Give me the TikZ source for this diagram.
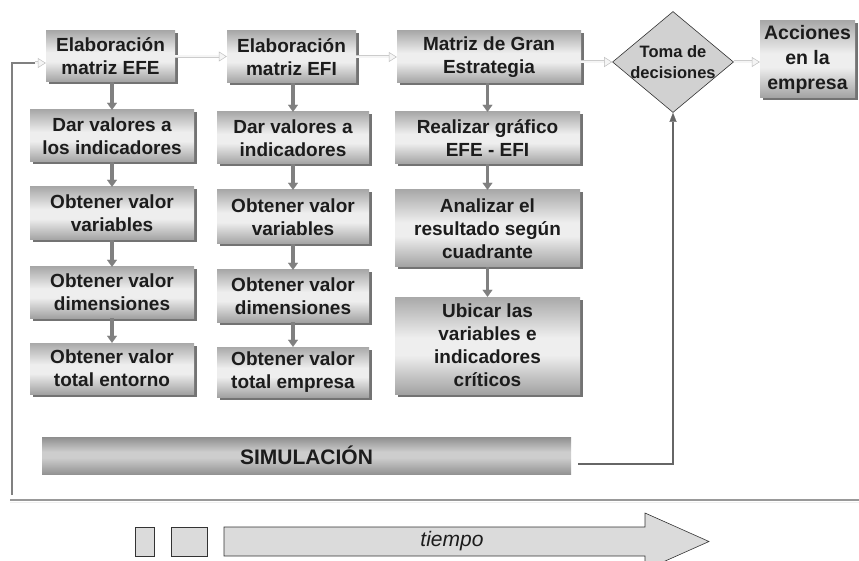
\documentclass[tikz,border=0pt]{standalone}
\usepackage{fontspec}
\setmainfont{Liberation Sans}
\usetikzlibrary{shapes.geometric,arrows.meta,shadows,calc}
\definecolor{bxT}{HTML}{A9A9A9}
\definecolor{bxL}{HTML}{EEEEEE}
\definecolor{bxB}{HTML}{A2A2A2}
\definecolor{smT}{HTML}{8E8E8E}
\definecolor{smL}{HTML}{CDCDCD}
\definecolor{smB}{HTML}{939393}
\definecolor{txt}{HTML}{1C1C1C}
\pgfdeclareverticalshading{boxshade}{100bp}{color(0bp)=(bxB); color(25bp)=(bxB); color(45bp)=(bxL); color(54bp)=(bxL); color(75bp)=(bxT); color(100bp)=(bxT)}
\pgfdeclareverticalshading{simshade}{100bp}{color(0bp)=(smB); color(25bp)=(smB); color(47bp)=(smL); color(55bp)=(smL); color(75bp)=(smT); color(100bp)=(smT)}
\newcommand\bxfont{\fontsize{19}{23}\selectfont\bfseries}
\newcommand\dcfont{\fontsize{16.5}{20.5}\selectfont\bfseries}
\newcommand\acfont{\fontsize{19.5}{25}\selectfont\bfseries}
\begin{document}
\begin{tikzpicture}[x=1pt,y=-1pt,
  bx/.style={shade, shading=boxshade, draw=none, align=center, inner sep=0pt,
    font=\bxfont, text=txt,
    general shadow={fill=black!55, shadow xshift=2.5pt, shadow yshift=-2.5pt}},
  dc/.style={diamond, draw=black!80, line width=0.6pt, fill=black!18, inner sep=0pt},
  dctext/.style={align=center, font=\dcfont, text=txt, inner sep=0pt},
  simbox/.style={shade, shading=simshade, draw=none, inner sep=0pt,
    font=\fontsize{21}{25}\selectfont\bfseries, text=txt},
  varrow/.style={draw=black!50, line width=3.6pt,
    -{Triangle[length=7pt,width=10pt,line width=0.1pt]}},
  lightarrow/.style={draw=black!4, line width=2pt,
    preaction={draw=black!20, line width=3pt, arrows=-, shorten >=7.5pt},
    -{Triangle[length=8pt,width=10pt,line width=0.5pt,color=black!25,fill=black!4]}},
  darkline/.style={draw=black!60, line width=1.8pt},
  feedline/.style={draw=black!50, line width=1.6pt},
  timebox/.style={draw=black!80, line width=0.6pt, fill=black!14}
]
\useasboundingbox (0,0) rectangle (859,561);
\clip (0,0) rectangle (859,561);

% top row
\node[bx, minimum width=129pt, minimum height=51pt] (efe) at (110.5,56.5) {Elaboración\\matriz EFE};
\node[bx, minimum width=129pt, minimum height=52pt] (efi) at (291.5,57) {Elaboración\\matriz EFI};
\node[bx, minimum width=184pt, minimum height=52pt] (mge) at (489,57) {Matriz de Gran\\Estrategia};
\node[dc, minimum width=121pt, minimum height=101pt] (dec) at (673,62) {};
\node[dctext] (dectext) at (dec.center) {Toma de\\decisiones};
\node[bx, minimum width=95pt, minimum height=77pt, font=\acfont] (acc) at (807.5,59.5) {Acciones\\en la\\empresa};

% column 1
\node[bx, minimum width=164pt, minimum height=52pt] (a1) at (112,136) {Dar valores a\\los indicadores};
\node[bx, minimum width=164pt, minimum height=53pt] (a2) at (112,213.5) {Obtener valor\\variables};
\node[bx, minimum width=164pt, minimum height=51pt] (a3) at (112,292.5) {Obtener valor\\dimensiones};
\node[bx, minimum width=164pt, minimum height=51pt] (a4) at (112,368.5) {Obtener valor\\total entorno};

% column 2
\node[bx, minimum width=152pt, minimum height=52pt] (b1) at (293,138) {Dar valores a\\indicadores};
\node[bx, minimum width=152pt, minimum height=54pt] (b2) at (293,217) {Obtener valor\\variables};
\node[bx, minimum width=152pt, minimum height=52pt] (b3) at (293,296) {Obtener valor\\dimensiones};
\node[bx, minimum width=152pt, minimum height=50pt] (b4) at (293,372) {Obtener valor\\total empresa};

% column 3
\node[bx, minimum width=185pt, minimum height=52pt] (c1) at (487.5,138) {Realizar gráfico\\EFE - EFI};
\node[bx, minimum width=185pt, minimum height=77pt] (c2) at (487.5,228.5) {Analizar el\\resultado según\\cuadrante};
\node[bx, minimum width=185pt, minimum height=97pt] (c3) at (487.5,345.5) {Ubicar las\\variables e\\indicadores\\críticos};

% simulation
\node[simbox, minimum width=529pt, minimum height=37pt] (sim) at (306.5,455.5) {SIMULACIÓN};

% horizontal light arrows
\draw[lightarrow] (efe.east) -- (efe.east -| efi.west);
\draw[lightarrow] (efi.east) -- (efi.east -| mge.west);
\draw[lightarrow] (mge.east |- dec.west) -- (dec.west);
\draw[lightarrow] (dec.east) -- (dec.east -| acc.west);

% vertical arrows
\draw[varrow] (efe.south -| a1.north) -- (a1.north);
\draw[varrow] (a1.south) -- (a2.north);
\draw[varrow] (a2.south) -- (a3.north);
\draw[varrow] (a3.south) -- (a4.north);
\draw[varrow] (efi.south -| b1.north) -- (b1.north);
\draw[varrow] (b1.south) -- (b2.north);
\draw[varrow] (b2.south) -- (b3.north);
\draw[varrow] (b3.south) -- (b4.north);
\draw[varrow] (mge.south -| c1.north) -- (c1.north);
\draw[varrow] (c1.south) -- (c2.north);
\draw[varrow] (c2.south) -- (c3.north);

% simulation to decision
\coordinate (simout) at (578,464);
\draw[darkline, -{Triangle[length=9pt,width=7pt,line width=0.1pt]}] (simout) -| (dec.south);

% feedback line
\coordinate (fb0) at (12,495);
\coordinate (fb1) at (35,63);
\draw[feedline] (fb0) |- (fb1);
\draw[lightarrow] (fb1) -- (fb1 -| efe.west);

% separator
\draw[black!40, line width=1.6pt] (10,500) -- (859,500);
\draw[black!6, line width=1pt] (10,502) -- (859,502);

% time arrow
\draw[timebox] (135,527) rectangle (154,556);
\draw[timebox] (171,527) rectangle (207,556);
\draw[timebox] (224,527) -- (645,527) -- (645,513) -- (709,541.5) -- (645,570) -- (645,556) -- (224,556) -- cycle;
\node[font=\fontsize{21}{25}\selectfont\itshape, text=txt] (tiempo) at (452,541) {tiempo};
\end{tikzpicture}
\end{document}
